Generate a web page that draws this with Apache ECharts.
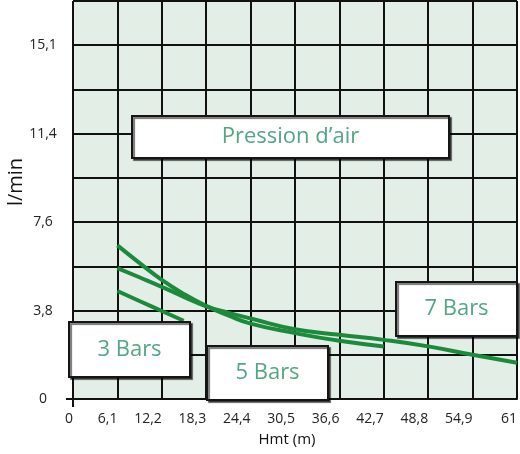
<!DOCTYPE html>
<html>
<head>
<meta charset="utf-8">
<script src="https://cdn.jsdelivr.net/npm/echarts@6/dist/echarts.min.js"></script>
<style>html,body{margin:0;padding:0;background:#fff;}#c{width:520px;height:454px;}</style>
</head>
<body>
<div id="c"></div>
<script>
const xTickLabels = ['0','6,1','12,2','18,3','24,4','30,5','36,6','42,7','48,8','54,9','61'];
const yTickLabels = ['0','3,8','7,6','11,4','15,1'];
const bars3 = [[6.1,4.64],[9.2,4.2],[12.2,3.78],[15.2,3.36]];
const bars5 = [[6.1,6.6],[9.2,5.83],[12.2,5.12],[15.3,4.5],[18.3,4.0],[21.4,3.58],[24.4,3.24],[30.5,2.83],[36.6,2.5],[42.7,2.26]];
const bars7 = [[6.1,5.62],[9.2,5.22],[12.2,4.82],[15.3,4.38],[18.3,3.98],[21.4,3.7],[24.4,3.46],[30.5,3.0],[36.6,2.76],[42.7,2.54],[48.8,2.26],[54.9,1.9],[61,1.56]];
const boxTexts = ['Pression d\u2019air','3 Bars','5 Bars','7 Bars'];

const FONT = '"Open Sans", sans-serif';
const lineColor = '#1b8a3c';
const textGreen = '#52a683';

function box(x, y, w, h, label) {
  return [
    {type:'rect', z:100, shape:{x:x, y:y, width:w, height:h},
     style:{fill:'#fff', stroke:'#151515', lineWidth:2, shadowColor:'rgba(0,0,0,0.55)', shadowOffsetX:2, shadowOffsetY:2, shadowBlur:1}},
    {type:'text', z:101, x:x+w/2, y:y+h/2,
     style:{text:label, fill:textGreen, font:'22px ' + FONT, align:'center', verticalAlign:'middle'}}
  ];
}

const chart = echarts.init(document.getElementById('c'));
chart.setOption({
  animation: false,
  grid: {left: 73, right: 3, top: 1, bottom: 55, show: true, backgroundColor: '#e3eee7', borderWidth: 0, containLabel: false, outerBoundsMode: 'none'},
  xAxis: {
    type: 'value', min: 0, max: 61, interval: 6.1,
    name: 'Hmt (m)', nameLocation: 'middle', nameGap: 33,
    nameTextStyle: {color: '#111', fontSize: 15, fontFamily: FONT, padding: [0, 16, 0, 0]},
    axisLine: {show: true, lineStyle: {color: '#111', width: 2}},
    axisTick: {show: false},
    axisLabel: {color: '#222', fontSize: 14, fontFamily: FONT, margin: 13, align: 'right',
      formatter: function(v){ return xTickLabels[Math.round(v/6.1)]; }},
    splitLine: {show: true, showMinLine: true, showMaxLine: true, lineStyle: {color: '#111', width: 2}}
  },
  yAxis: {
    type: 'value', min: 0, max: 17.1, interval: 1.9,
    name: 'l/min', nameLocation: 'middle', nameGap: 47, nameRotate: 90, nameMoveOverlap: false,
    nameTextStyle: {color: '#111', fontSize: 20, fontFamily: FONT, padding: [0, 0, 0, 36]},
    axisLine: {show: false},
    axisTick: {show: false},
    axisLabel: {color: '#222', fontSize: 14, fontFamily: FONT, margin: 30, align: 'center',
      formatter: function(v){ const i = Math.round(v/1.9); return (i % 2 === 0 && i/2 < yTickLabels.length) ? yTickLabels[i/2] : ''; }},
    splitLine: {show: true, showMinLine: true, showMaxLine: true, lineStyle: {color: '#111', width: 2}}
  },
  series: [
    {name: '3 Bars', type: 'line', data: bars3, smooth: true, symbol: 'none', lineStyle: {color: lineColor, width: 4}},
    {name: '5 Bars', type: 'line', data: bars5, smooth: true, symbol: 'none', lineStyle: {color: lineColor, width: 4}},
    {name: '7 Bars', type: 'line', data: bars7, smooth: true, symbol: 'none', lineStyle: {color: lineColor, width: 4}}
  ],
  graphic: [].concat(
    [
      {type:'line', z:50, shape:{x1:66, y1:399, x2:74, y2:399}, style:{stroke:'#111', lineWidth:2}},
      {type:'line', z:50, shape:{x1:73, y1:398, x2:73, y2:407}, style:{stroke:'#111', lineWidth:2}}
    ],
    box(132, 116, 317, 42, boxTexts[0]),
    box(69, 322, 121, 55, boxTexts[1]),
    box(207, 346, 121, 54, boxTexts[2]),
    box(396, 282, 121, 54, boxTexts[3])
  )
});
</script>
</body>
</html>
